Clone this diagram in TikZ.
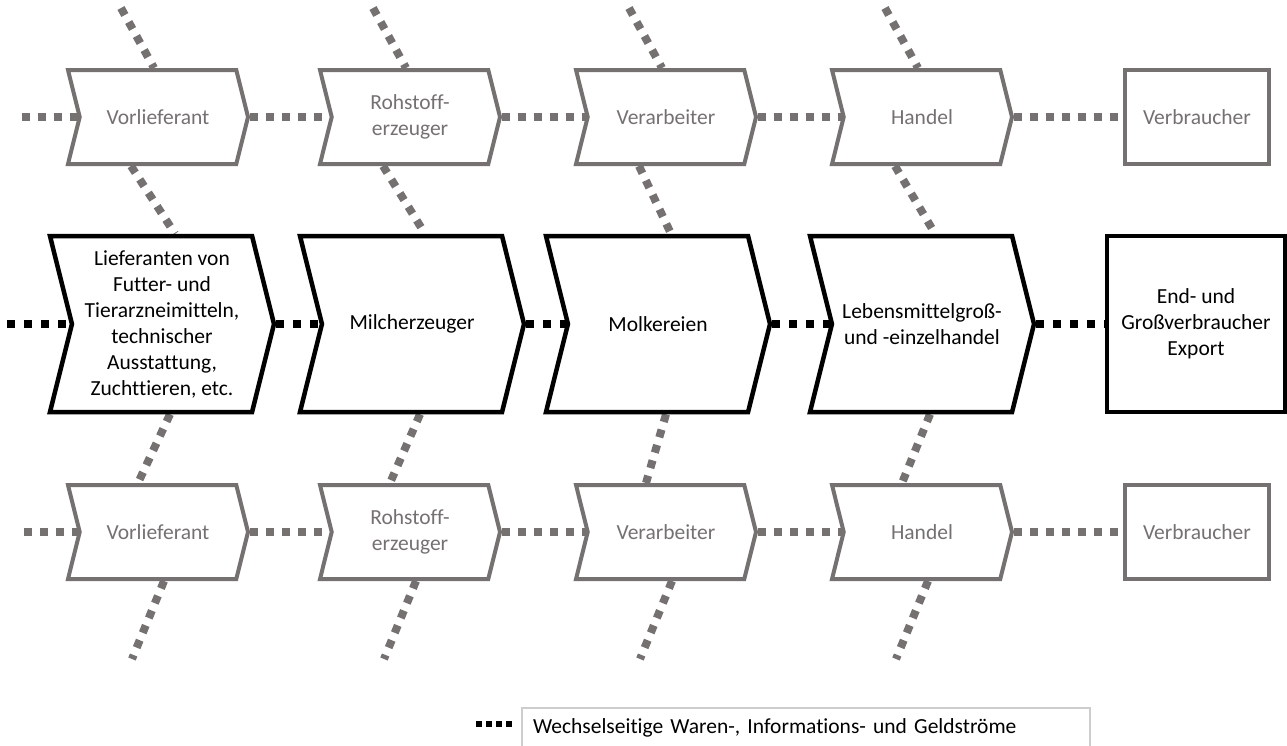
\documentclass[tikz,border=0pt]{standalone}
\usepackage{fontspec}
\setmainfont[Ligatures=NoCommon]{Carlito}
\usetikzlibrary{shapes.symbols,calc,backgrounds}

\definecolor{kettengrau}{RGB}{118,113,113}
\definecolor{legendrand}{RGB}{205,205,205}

\tikzset{
  pfeil/.style={shape=signal, signal from=west, signal to=east, signal pointer angle=152,
    fill=white, align=center, inner sep=0pt, font=\fontsize{21.5}{26}\selectfont},
  neben/.style={pfeil, draw=kettengrau, text=kettengrau, line width=4pt,
    minimum width=180pt, minimum height=94pt},
  haupt/.style={pfeil, draw=black, line width=4.5pt,
    minimum width=224pt, minimum height=176pt},
  nebenbox/.style={rectangle, draw=kettengrau, text=kettengrau, line width=4pt, fill=white,
    minimum width=144pt, minimum height=94pt, font=\fontsize{21.5}{26}\selectfont},
  hauptbox/.style={rectangle, draw=black, line width=4.5pt, fill=white, align=center,
    minimum width=178pt, minimum height=176pt, font=\fontsize{21.5}{26}\selectfont},
  grauweg/.style={draw=kettengrau, line width=8pt, dash pattern=on 8pt off 8pt},
  schwarzweg/.style={draw=black, line width=8pt, dash pattern=on 8pt off 9pt},
  legende/.style={rectangle, draw=legendrand, line width=1.2pt, minimum width=568pt,
    minimum height=40pt, text width=546pt, align=left, inner xsep=11pt,
    font=\fontsize{21.5}{26}\selectfont}
}

\begin{document}
\begin{tikzpicture}[x=1pt, y=-1pt]
  \useasboundingbox (0,0) rectangle (1287,745);

  %%% obere Kette
  \node[neben] (t1) at (158,117) {Vorlieferant};
  \node[neben] (t2) at (410,117) {Rohstoff-\\erzeuger};
  \node[neben] (t3) at (666,117) {Verarbeiter};
  \node[neben] (t4) at (922,117) {Handel};
  \node[nebenbox] (t5) at (1197,117) {Verbraucher};

  %%% Milchkette
  \node[haupt] (m1) at (162,324) {Lieferanten von\\Futter- und\\Tierarzneimitteln,\\technischer\\Ausstattung,\\Zuchttieren, etc.};
  \node[haupt] (m2) at (412,324) {Milcherzeuger};
  \node[haupt] (m3) at (658,324) {Molkereien};
  \node[haupt] (m4) at (922,324) {Lebensmittelgroß-\\und -einzelhandel};
  \node[hauptbox] (m5) at (1196,324) {End- und\\Großverbraucher\\Export};

  %%% untere Kette
  \node[neben] (b1) at (158,532) {Vorlieferant};
  \node[neben] (b2) at (410,532) {Rohstoff-\\erzeuger};
  \node[neben] (b3) at (666,532) {Verarbeiter};
  \node[neben] (b4) at (922,532) {Handel};
  \node[nebenbox] (b5) at (1197,532) {Verbraucher};

  %%% schraege Stroeme hinter den Kaesten
  \begin{scope}[on background layer]
    \foreach \i in {1,...,4}{
      \draw[grauweg] ($(t\i.north)+(-37,-60)$) -- ($(t\i.north)+(-4,0)$);
      \draw[grauweg] ($(t\i.south)+(-27,0)$) -- ($(m\i.north)+(13,0)$);
      \draw[grauweg] ($(m\i.south)+(8,0)$) -- ($(b\i.north)+(-20,0)$);
      \draw[grauweg] ($(b\i.south)+(6,0)$) -- ($(b\i.south)+(-26,78)$);
    }
  \end{scope}

  %%% waagrechte Stroeme
  \coordinate (tstart) at (22,117);
  \coordinate (mstart) at (7,324);
  \coordinate (bstart) at (24,532);
  \draw[grauweg] (tstart) -- (t1.west);
  \draw[schwarzweg] (mstart) -- (m1.west);
  \draw[grauweg] (bstart) -- (b1.west);
  \foreach \i/\j in {1/2,2/3,3/4,4/5}{
    \draw[grauweg] (t\i.east) -- (t\j.west);
    \draw[schwarzweg] (m\i.east) -- (m\j.west);
    \draw[grauweg] (b\i.east) -- (b\j.west);
  }

  %%% Legende
  \node[legende] (leg) at (806,728) {Wechselseitige Waren-, Informations- und Geldströme};
  \coordinate (legdot) at (476,724);
  \draw[black, line width=6pt, dash pattern=on 6pt off 4pt] (legdot) -- ++(38,0);
\end{tikzpicture}
\end{document}
